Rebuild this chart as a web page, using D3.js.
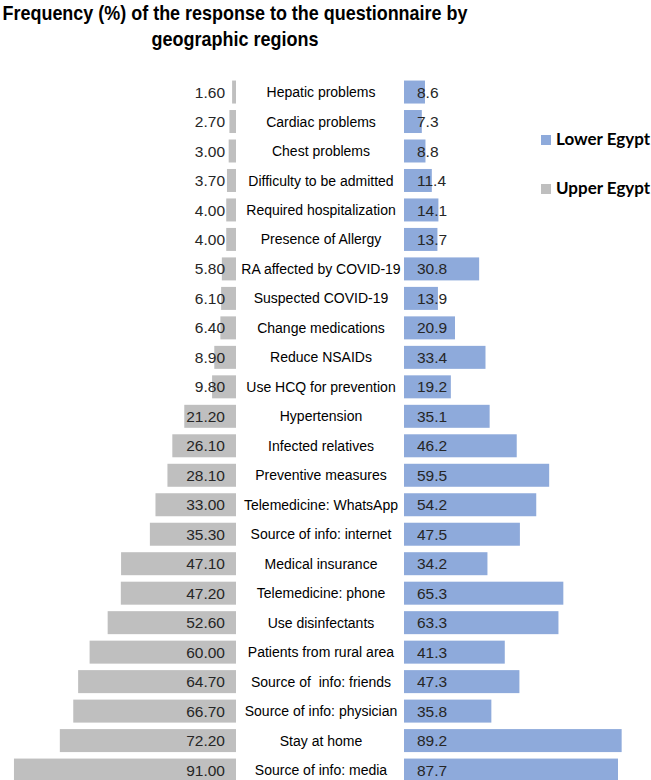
<!DOCTYPE html>
<html lang="en">
<head>
  <meta charset="UTF-8">
  <title>Frequency by geographic regions</title>
  <script src="https://d3js.org/d3.v7.min.js"></script>
  <style>
    body { margin: 0; background: #fff; }
    svg { display: block; }
  </style>
</head>
<body>
  <svg width="651" height="780"></svg>

  <script>
    // Categories, top to bottom
    const categories = [
      "Hepatic problems", "Cardiac problems", "Chest problems",
      "Difficulty to be admitted", "Required hospitalization", "Presence of Allergy",
      "RA affected by COVID-19", "Suspected COVID-19", "Change medications",
      "Reduce NSAIDs", "Use HCQ for prevention", "Hypertension",
      "Infected relatives", "Preventive measures", "Telemedicine: WhatsApp",
      "Source of info: internet", "Medical insurance", "Telemedicine: phone",
      "Use disinfectants", "Patients from rural area", "Source of  info: friends",
      "Source of info: physician", "Stay at home", "Source of info: media"
    ];
    const upperEgypt = [1.6, 2.7, 3.0, 3.7, 4.0, 4.0, 5.8, 6.1, 6.4, 8.9, 9.8, 21.2,
      26.1, 28.1, 33.0, 35.3, 47.1, 47.2, 52.6, 60.0, 64.7, 66.7, 72.2, 91.0];
    const lowerEgypt = [8.6, 7.3, 8.8, 11.4, 14.1, 13.7, 30.8, 13.9, 20.9, 33.4, 19.2, 35.1,
      46.2, 59.5, 54.2, 47.5, 34.2, 65.3, 63.3, 41.3, 47.3, 35.8, 89.2, 87.7];
    const seriesNames = ["Lower Egypt", "Upper Egypt"];
    const titleLines = ["Frequency (%) of the response to the questionnaire by", "geographic regions"];

    const rows = categories.map((c, i) => ({ cat: c, upper: upperEgypt[i], lower: lowerEgypt[i] }));

    const grey = "#bfbfbf";
    const blue = "#8eaadb";

    const svg = d3.select("svg");

    // Title (the original uses a condensed bold face, so squeeze it to fit)
    svg.append("g").selectAll("text")
      .data(titleLines)
      .join("text")
      .attr("x", 235)
      .attr("y", (d, i) => 20 + i * 25.5)
      .attr("text-anchor", "middle")
      .attr("textLength", (d, i) => i === 0 ? 465 : 167)
      .attr("lengthAdjust", "spacingAndGlyphs")
      .style("font-family", "'Liberation Sans', Arial, sans-serif")
      .style("font-weight", "bold")
      .style("font-size", "20.5px")
      .attr("fill", "#000")
      .text(d => d);

    // Scales
    const y = d3.scaleBand()
      .domain(categories)
      .range([77.3, 784.8])
      .paddingInner(0.22)
      .paddingOuter(0.11);

    const xLeft = d3.scaleLinear().domain([0, 100]).range([236, 236 - 244]);
    const xRight = d3.scaleLinear().domain([0, 100]).range([404, 648]);

    // Upper Egypt bars (left)
    svg.append("g").selectAll("rect")
      .data(rows)
      .join("rect")
      .attr("x", d => xLeft(d.upper))
      .attr("y", d => y(d.cat))
      .attr("width", d => xLeft(0) - xLeft(d.upper))
      .attr("height", y.bandwidth())
      .attr("fill", grey);

    // Lower Egypt bars (right)
    svg.append("g").selectAll("rect")
      .data(rows)
      .join("rect")
      .attr("x", xRight(0))
      .attr("y", d => y(d.cat))
      .attr("width", d => xRight(d.lower) - xRight(0))
      .attr("height", y.bandwidth())
      .attr("fill", blue);

    const font = "'Liberation Sans', Arial, sans-serif";

    // Value labels, left
    svg.append("g").selectAll("text")
      .data(rows)
      .join("text")
      .attr("x", xLeft(0) - 11)
      .attr("y", d => y(d.cat) + y.bandwidth() / 2)
      .attr("dy", "0.36em")
      .attr("text-anchor", "end")
      .style("font-family", font)
      .style("font-size", "15.5px")
      .attr("fill", "#262626")
      .text(d => d.upper.toFixed(2));

    // Value labels, right
    svg.append("g").selectAll("text")
      .data(rows)
      .join("text")
      .attr("x", xRight(0) + 13)
      .attr("y", d => y(d.cat) + y.bandwidth() / 2)
      .attr("dy", "0.36em")
      .attr("text-anchor", "start")
      .style("font-family", font)
      .style("font-size", "15.5px")
      .attr("fill", "#262626")
      .text(d => d.lower.toFixed(1));

    // Category labels in the middle
    svg.append("g").selectAll("text")
      .data(rows)
      .join("text")
      .attr("x", 321)
      .attr("y", d => y(d.cat) + y.bandwidth() / 2)
      .attr("dy", "0.36em")
      .attr("text-anchor", "middle")
      .style("font-family", font)
      .style("font-size", "14px")
      .style("white-space", "pre")
      .attr("fill", "#000")
      .text(d => d.cat);

    // Legend
    const legend = svg.append("g")
      .selectAll("g")
      .data(seriesNames)
      .join("g")
      .attr("transform", (d, i) => `translate(541, ${135 + i * 49})`);
    legend.append("rect")
      .attr("width", 10)
      .attr("height", 10)
      .attr("fill", d => d === "Lower Egypt" ? blue : grey);
    legend.append("text")
      .attr("x", 15)
      .attr("y", 9.5)
      .style("font-family", "Lato, 'Open Sans', sans-serif")
      .style("font-weight", "bold")
      .style("font-size", "17px")
      .attr("fill", "#000")
      .text(d => d);
  </script>
</body>
</html>
